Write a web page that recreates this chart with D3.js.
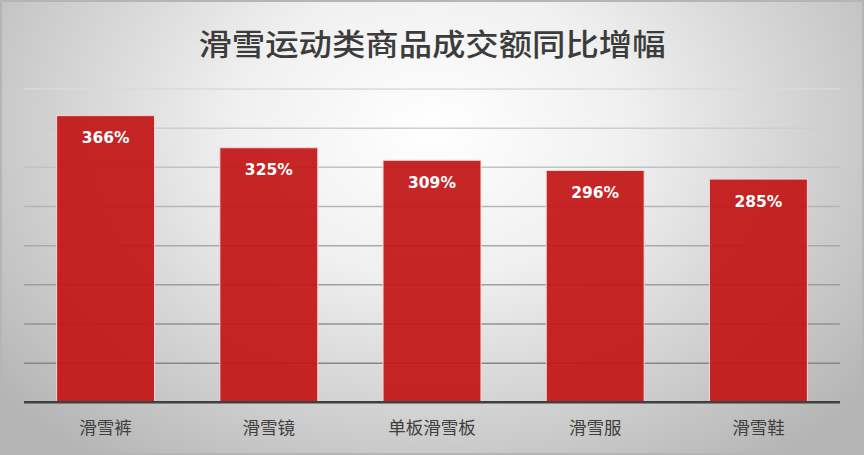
<!DOCTYPE html>
<html><head><meta charset="utf-8">
<script src="https://cdn.jsdelivr.net/npm/d3@7"></script>
<style>html,body{margin:0;padding:0;background:#fff;}svg{display:block;}</style>
</head><body>
<svg id="chart" width="864" height="455"></svg>
<script>
const title = "滑雪运动类商品成交额同比增幅";
const categories = ["滑雪裤", "滑雪镜", "单板滑雪板", "滑雪服", "滑雪鞋"];
const values = [366, 325, 309, 296, 285];
const labels = ["366%", "325%", "309%", "296%", "285%"];
const yTicks = [50, 100, 150, 200, 250, 300, 350, 400];

const W = 864, H = 455;
const svg = d3.select("#chart");
const defs = svg.append("defs");
const rg = defs.append("radialGradient").attr("id","bg")
  .attr("gradientUnits","userSpaceOnUse").attr("cx",432).attr("cy",130).attr("r",560)
  .attr("gradientTransform","translate(432,130) scale(1,0.75) translate(-432,-130)");
rg.append("stop").attr("offset","0%").attr("stop-color","#ffffff");
rg.append("stop").attr("offset","35%").attr("stop-color","#f0f0f0");
rg.append("stop").attr("offset","100%").attr("stop-color","#b4b4b4");
svg.append("rect").attr("width",W).attr("height",H).attr("fill","url(#bg)");
svg.append("rect").attr("x",1).attr("y",1).attr("width",W-2).attr("height",H-2)
  .attr("fill","none").attr("stroke","#b5b5b5").attr("stroke-width",2);

const x = d3.scaleBand().domain(categories).range([24, 840]).paddingInner(0.4).paddingOuter(0.2);
const y = d3.scaleLinear().domain([0, 400]).range([402.3, 89]);
const gridColor = d3.scaleLinear().domain([50, 400]).range(["#868686", "#dadada"]);

// gridlines
svg.append("g").selectAll("line").data(yTicks).join("line")
  .attr("x1",24).attr("x2",840)
  .attr("y1",d=>y(d)).attr("y2",d=>y(d))
  .attr("stroke",d=>gridColor(d)).attr("stroke-width",1.5);

// bars
svg.append("g").selectAll("rect").data(values).join("rect")
  .attr("x",(d,i)=>x(categories[i]))
  .attr("y",d=>y(d))
  .attr("width",x.bandwidth())
  .attr("height",d=>y(0)-y(d))
  .attr("fill","#c21616").attr("fill-opacity",0.93)
  .attr("stroke","#f2d6d6").attr("stroke-width",1);

// baseline
svg.append("line").attr("x1",24).attr("x2",840).attr("y1",y(0)).attr("y2",y(0))
  .attr("stroke","#404040").attr("stroke-width",2.5);

// value labels
svg.append("g").selectAll("text").data(values).join("text")
  .attr("x",(d,i)=>x(categories[i]) + x.bandwidth()/2)
  .attr("y",d=>y(d)+27.5)
  .attr("text-anchor","middle")
  .attr("font-family","DejaVu Sans, Verdana, sans-serif")
  .attr("font-weight","bold").attr("font-size","15.5px").attr("fill","#ffffff")
  .text((d,i)=>labels[i]);

// category axis labels
svg.append("g").selectAll("text").data(categories).join("text")
  .attr("x",d=>x(d)+x.bandwidth()/2)
  .attr("y",434)
  .attr("text-anchor","middle")
  .attr("font-family","Noto Sans CJK SC, sans-serif")
  .attr("font-size","17.5px").attr("fill","#404040")
  .text(d=>d);

// title
svg.append("text").attr("x",432).attr("y",55)
  .attr("text-anchor","middle")
  .attr("font-family","Noto Sans CJK SC, sans-serif")
  .attr("font-weight","500").attr("font-size","30px").attr("fill","#3c3c3c")
  .attr("textLength",467).attr("lengthAdjust","spacingAndGlyphs")
  .text(title);
</script>
</body></html>
